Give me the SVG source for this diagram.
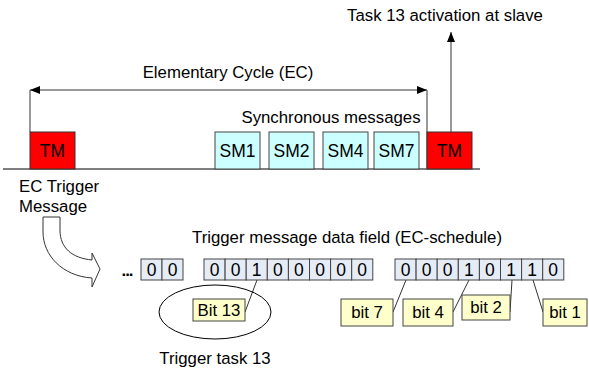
<svg xmlns="http://www.w3.org/2000/svg" width="589" height="377" viewBox="0 0 589 377">
<defs>
<marker id="ah" viewBox="0 0 10 8" refX="10" refY="4" markerWidth="10" markerHeight="8" markerUnits="userSpaceOnUse" orient="auto-start-reverse">
<path d="M0,0 L10,4 L0,8 Z" fill="#000"/>
</marker>
<style>
text{font-family:"Liberation Sans",Arial,sans-serif;font-size:16.8px;fill:#000}
.c{text-anchor:middle}
.d{font-size:17.5px}
.b{font-size:17.5px}
.tm{fill:#FF0000;stroke:#333;stroke-width:1}
.sm{fill:#CCFFFF;stroke:#444;stroke-width:1}
.cell{fill:#E6ECF6;stroke:#444;stroke-width:1}
.bit{fill:#FFFFCC;stroke:#444;stroke-width:1}
.ln{stroke:#333;stroke-width:1;fill:none}
.gl{stroke:#777;stroke-width:1.5;fill:none}
</style>
</defs>
<rect width="589" height="377" fill="#fff"/>

<g id="connectors">
<line x1="3" y1="169" x2="480" y2="169" stroke="#000" stroke-width="1.2"/>
<polyline class="gl" points="30,132 30,90"/>
<polyline class="gl" points="427,90 427,169"/>
<line class="gl" x1="30" y1="90" x2="427" y2="90" marker-start="url(#ah)" marker-end="url(#ah)"/>
<line class="ln" x1="451" y1="132" x2="451" y2="32" marker-end="url(#ah)"/>
<line class="ln" x1="257" y1="280" x2="245" y2="312"/>
<line class="ln" x1="406" y1="280" x2="393" y2="312"/>
<line class="ln" x1="469" y1="280" x2="453" y2="312"/>
<line class="ln" x1="512" y1="280" x2="510" y2="312"/>
<line class="ln" x1="533" y1="280" x2="543" y2="312"/>
<path d="M43,217 L60,217 L60,230 C60,248 72,258 92,260 L92,253 L100,269 L92,287 L92,278 C62,276 43,255 43,232 Z" fill="#fff" stroke="#333" stroke-width="1"/>
</g>

<g id="labels">
<text x="445" y="21" class="c">Task 13 activation at slave</text>
<text x="228" y="78" class="c">Elementary Cycle (EC)</text>
<text x="331" y="123" class="c">Synchronous messages</text>
<text x="19" y="192">EC Trigger</text>
<text x="19" y="212">Message</text>
<text x="347" y="243" class="c">Trigger message data field (EC-schedule)</text>
<text x="215" y="364" class="c">Trigger task 13</text>
<text x="127" y="276" class="c" font-weight="bold" letter-spacing="-1">...</text>
</g>

<g id="tm1"><rect class="tm" x="30" y="132" width="45" height="37"/><text x="52.5" y="157" class="c b">TM</text></g>
<g id="sm1"><rect class="sm" x="215" y="132" width="45" height="37"/><text x="237.5" y="157" class="c b">SM1</text></g>
<g id="sm2"><rect class="sm" x="269" y="132" width="45" height="37"/><text x="291.5" y="157" class="c b">SM2</text></g>
<g id="sm4"><rect class="sm" x="323" y="132" width="45" height="37"/><text x="345.5" y="157" class="c b">SM4</text></g>
<g id="sm7"><rect class="sm" x="374" y="132" width="45" height="37"/><text x="396.5" y="157" class="c b">SM7</text></g>
<g id="tm2"><rect class="tm" x="427" y="132" width="45" height="37"/><text x="449.5" y="157" class="c b">TM</text></g>

<g id="field1">
<rect class="cell" x="141" y="259" width="21" height="21"/><rect class="cell" x="162" y="259" width="21" height="21"/>
<text x="151.5" y="276" class="c d">0</text><text x="172.5" y="276" class="c d">0</text>
</g>

<g id="field2">
<rect class="cell" x="204" y="259" width="21.1" height="21"/>
<rect class="cell" x="225.1" y="259" width="21.1" height="21"/>
<rect class="cell" x="246.2" y="259" width="21.1" height="21"/>
<rect class="cell" x="267.3" y="259" width="21.1" height="21"/>
<rect class="cell" x="288.4" y="259" width="21.1" height="21"/>
<rect class="cell" x="309.5" y="259" width="21.1" height="21"/>
<rect class="cell" x="330.6" y="259" width="21.1" height="21"/>
<rect class="cell" x="351.7" y="259" width="21.1" height="21"/>
<text x="214.5" y="276" class="c d">0</text>
<text x="235.6" y="276" class="c d">0</text>
<text x="256.7" y="276" class="c d">1</text>
<text x="277.8" y="276" class="c d">0</text>
<text x="298.9" y="276" class="c d">0</text>
<text x="320" y="276" class="c d">0</text>
<text x="341.1" y="276" class="c d">0</text>
<text x="362.2" y="276" class="c d">0</text>
</g>

<g id="field3">
<rect class="cell" x="395" y="259" width="21.1" height="21"/>
<rect class="cell" x="416.1" y="259" width="21.1" height="21"/>
<rect class="cell" x="437.2" y="259" width="21.1" height="21"/>
<rect class="cell" x="458.3" y="259" width="21.1" height="21"/>
<rect class="cell" x="479.4" y="259" width="21.1" height="21"/>
<rect class="cell" x="500.5" y="259" width="21.1" height="21"/>
<rect class="cell" x="521.6" y="259" width="21.1" height="21"/>
<rect class="cell" x="542.7" y="259" width="21.1" height="21"/>
<text x="405.5" y="276" class="c d">0</text>
<text x="426.6" y="276" class="c d">0</text>
<text x="447.7" y="276" class="c d">0</text>
<text x="468.8" y="276" class="c d">1</text>
<text x="489.9" y="276" class="c d">0</text>
<text x="511" y="276" class="c d">1</text>
<text x="532.1" y="276" class="c d">1</text>
<text x="553.2" y="276" class="c d">0</text>
</g>

<g id="task13">
<ellipse cx="215" cy="312" rx="56" ry="27" fill="none" stroke="#000" stroke-width="1"/>
</g>
<g id="bit13"><rect class="bit" x="193" y="299" width="52" height="22"/><text x="219" y="316" class="c">Bit 13</text></g>
<g id="bit7"><rect class="bit" x="341" y="299" width="52" height="27"/><text x="367" y="318" class="c">bit 7</text></g>
<g id="bit4"><rect class="bit" x="403" y="299" width="50" height="27"/><text x="428" y="318" class="c">bit 4</text></g>
<g id="bit2"><rect class="bit" x="462" y="295" width="48" height="25"/><text x="486" y="313" class="c">bit 2</text></g>
<g id="bit1"><rect class="bit" x="543" y="299" width="44" height="27"/><text x="565" y="318" class="c">bit 1</text></g>
</svg>
